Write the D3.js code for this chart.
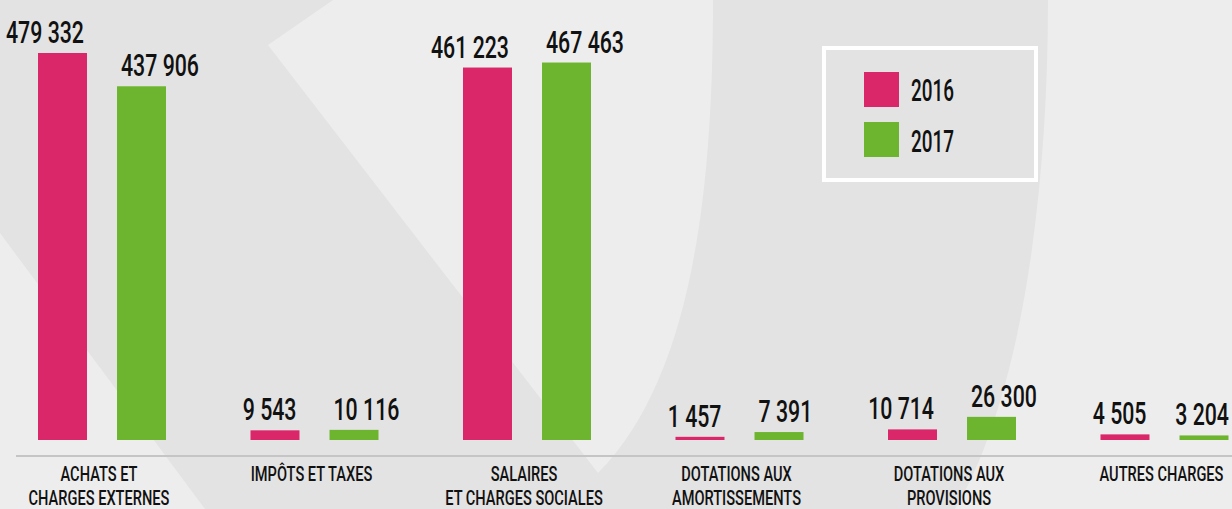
<!DOCTYPE html>
<html>
<head>
<meta charset="utf-8">
<script src="https://cdn.jsdelivr.net/npm/d3@7"></script>
<style>
  html, body { margin: 0; padding: 0; background: #ececec; }
  svg { display: block; }
  text { font-family: "Roboto", "Liberation Sans Narrow", "DejaVu Sans Condensed", sans-serif; font-weight: 500; fill: #111; }
</style>
</head>
<body>
<svg id="chart" width="1232" height="509"></svg>
<script>
// ---- data ----
const categories = [
  "ACHATS ET\nCHARGES EXTERNES",
  "IMPÔTS ET TAXES",
  "SALAIRES\nET CHARGES SOCIALES",
  "DOTATIONS AUX\nAMORTISSEMENTS",
  "DOTATIONS AUX\nPROVISIONS",
  "AUTRES CHARGES"
];
const years = ["2016", "2017"];
const values2016 = [479332, 9543, 461223, 1457, 10714, 4505];
const values2017 = [437906, 10116, 467463, 7391, 26300, 3204];
const colors = ["#da276a", "#6db52f"];

// ---- setup ----
const W = 1232, H = 509;
const svg = d3.select("#chart");
const baseY = 440;

// background decoration
const bg = svg.append("g");
bg.append("rect").attr("width", W).attr("height", H).attr("fill", "#e3e3e3");
const light = "#ededed";
bg.append("path").attr("fill", light)
  .attr("d", "M0,233 L205,509 L0,509 Z");
bg.append("path").attr("fill", light)
  .attr("d", "M333,0 L268,45 L598,473 C690,380 713,200 713,0 Z");
bg.append("path").attr("fill", light)
  .attr("d", "M1048,0 C1048,200 1020,400 955,509 L1232,509 L1232,0 Z");

// scales
const x = d3.scalePoint().domain(categories).range([102, 1164.5]);
const xs = d3.scaleBand().domain(years).range([-64, 64]).paddingInner(0.38);
const y = d3.scaleLinear().domain([-2500, d3.max(values2016.concat(values2017))]).range([baseY, 53]);

const fr = d3.formatLocale({decimal: ",", thousands: " ", grouping: [3], currency: ["", " €"]});
const fmt = fr.format(",d");

// text width measurement helper
function measure(str, size) {
  const t = svg.append("text").attr("font-size", size).text(str);
  const w = t.node().getComputedTextLength();
  t.remove();
  return w;
}
const valSize = 31, catSize = 21, legSize = 32;
const valSx = 78 / measure("479 332", valSize);
const catSx = 77 / measure("ACHATS ET", catSize);
const legSx = 43 / measure("2016", legSize);

// axis line
svg.append("line")
  .attr("x1", 16).attr("x2", W)
  .attr("y1", 456).attr("y2", 456)
  .attr("stroke", "#c5c5c5").attr("stroke-width", 2);

// data rows
const rows = categories.map((c, i) => ({cat: c, vals: [values2016[i], values2017[i]]}));

const groups = svg.append("g").selectAll("g").data(rows).join("g")
  .attr("transform", d => `translate(${x(d.cat)},0)`);

groups.selectAll("rect").data(d => d.vals.map((v, j) => ({year: years[j], v, j, cat: d.cat})))
  .join("rect")
  .attr("x", d => xs(d.year))
  .attr("width", xs.bandwidth())
  .attr("y", d => y(d.v))
  .attr("height", d => baseY - y(d.v))
  .attr("fill", d => colors[d.j]);

groups.selectAll("text.val").data(d => d.vals.map((v, j) => ({year: years[j], v, j, cat: d.cat})))
  .join("text").attr("class", "val")
  .attr("font-size", valSize)
  .attr("text-anchor", d => d.j === 0 ? "end" : "start")
  .text(d => fmt(d.v))
  .attr("transform", function(d) {
    let tx;
    if (d.j === 0) {
      tx = xs(d.year) + xs.bandwidth() - 3;
    } else {
      tx = xs(d.year) + 4;
      const w = this.getComputedTextLength() * valSx;
      const maxTx = W - 3 - x(d.cat) - w;
      tx = Math.min(tx, maxTx);
    }
    return `translate(${tx},${y(d.v) - 10}) scale(${valSx},1)`;
  });

// category labels
groups.each(function(d) {
  const lines = d.cat.split("\n");
  const g = d3.select(this);
  lines.forEach((ln, k) => {
    g.append("text")
      .attr("font-size", catSize)
      .attr("text-anchor", "middle")
      .attr("transform", `translate(-3,${481 + k * 23.5}) scale(${catSx},1)`)
      .text(ln);
  });
});

// legend
const leg = svg.append("g");
leg.append("rect").attr("x", 824).attr("y", 48).attr("width", 212).attr("height", 132)
  .attr("fill", "none").attr("stroke", "#ffffff").attr("stroke-width", 4);
years.forEach((yr, i) => {
  leg.append("rect").attr("x", 864).attr("y", 72 + i * 50).attr("width", 35).attr("height", 35)
    .attr("fill", colors[i]);
  leg.append("text").attr("font-size", legSize)
    .attr("transform", `translate(911,${101 + i * 51}) scale(${legSx},1)`)
    .text(yr);
});
</script>
</body>
</html>
